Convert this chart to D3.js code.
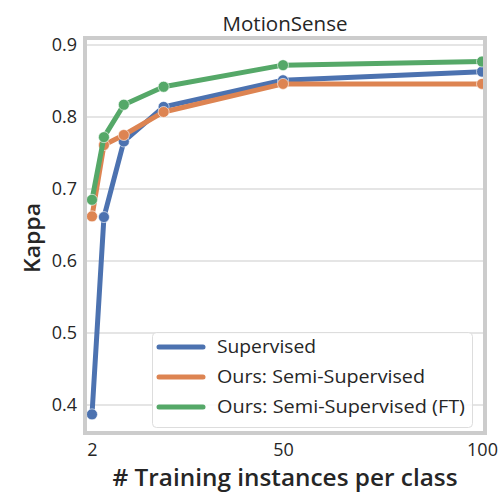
<!DOCTYPE html>
<html><head><meta charset="utf-8">
<script src="https://cdn.jsdelivr.net/npm/d3@7"></script>
<style>body{margin:0;background:#fff}text{font-family:"Open Sans","Noto Sans",sans-serif;fill:#262626}</style>
</head><body><svg id="c" width="503" height="494"></svg>
<script>
const xs = [2, 5, 10, 20, 50, 100];
const supervised = [0.387, 0.661, 0.766, 0.814, 0.851, 0.863];
const semi = [0.662, 0.761, 0.775, 0.807, 0.846, 0.846];
const semiFT = [0.685, 0.772, 0.817, 0.842, 0.872, 0.877];
const seriesNames = ["Supervised", "Ours: Semi-Supervised", "Ours: Semi-Supervised (FT)"];
const colors = ["#4C72B0", "#DD8452", "#55A868"];
const xTicks = [2, 50, 100];
const yTicks = [0.4, 0.5, 0.6, 0.7, 0.8, 0.9];

const svg = d3.select("#c");
const L = 87, R = 483, T = 40, B = 431;
const x = d3.scaleLinear().domain([2, 100]).range([92, 482]);
const y = d3.scaleLinear().domain([0.4, 0.9]).range([405, 45]);

svg.append("defs").append("clipPath").attr("id", "clip")
  .append("rect").attr("x", L).attr("y", T).attr("width", R - L).attr("height", B - T);

svg.append("g").selectAll("line").data(yTicks).join("line")
  .attr("x1", L).attr("x2", R).attr("y1", d => y(d)).attr("y2", d => y(d))
  .attr("stroke", "#dcdcdc").attr("stroke-width", 1.5);

const yAxis = svg.append("g").attr("transform", `translate(${L - 4},0)`)
  .call(d3.axisLeft(y).tickValues(yTicks).tickFormat(d3.format(".1f")).tickSize(0).tickPadding(6));
const xAxis = svg.append("g").attr("transform", `translate(0,${B + 4})`)
  .call(d3.axisBottom(x).tickValues(xTicks).tickFormat(d3.format("d")).tickSize(0).tickPadding(8));
[yAxis, xAxis].forEach(a => { a.select(".domain").remove(); a.selectAll("text").style("font-size", "18px").attr("fill", "#262626"); });

const data = [supervised, semi, semiFT];
const line = d3.line().x((d, i) => x(xs[i])).y(d => y(d));
const plot = svg.append("g").attr("clip-path", "url(#clip)");
data.forEach((s, k) => {
  plot.append("path").datum(s).attr("d", line).attr("fill", "none")
    .attr("stroke", colors[k]).attr("stroke-width", 5).attr("stroke-linejoin", "round");
  plot.selectAll(null).data(s).join("circle")
    .attr("cx", (d, i) => x(xs[i])).attr("cy", d => y(d)).attr("r", 5.5)
    .attr("fill", colors[k]).attr("stroke", "#fff").attr("stroke-width", 0.6);
});

svg.append("rect").attr("x", L - 2).attr("y", T - 2).attr("width", R - L + 4).attr("height", B - T + 4)
  .attr("fill", "none").attr("stroke", "#cccccc").attr("stroke-width", 4);

const lg = svg.append("g");
lg.append("rect").attr("x", 152.5).attr("y", 332.5).attr("width", 320).attr("height", 95).attr("rx", 4)
  .attr("fill", "#fff").attr("fill-opacity", 0.85).attr("stroke", "#dddddd");
const legendWidths = [99, 208, 248];
seriesNames.forEach((n, k) => {
  const yy = 347 + k * 30;
  lg.append("line").attr("x1", 159).attr("x2", 203).attr("y1", yy).attr("y2", yy)
    .attr("stroke", colors[k]).attr("stroke-width", 5).attr("stroke-linecap", "round");
  lg.append("text").attr("x", 217).attr("y", yy).attr("dy", "0.35em").style("font-size", "18px")
    .attr("textLength", legendWidths[k]).attr("lengthAdjust", "spacingAndGlyphs").text(n);
});

svg.append("text").attr("x", 285).attr("y", 24).attr("text-anchor", "middle").attr("dy", "0.35em")
  .style("font-size", "20px").style("font-weight", 500).attr("textLength", 125).attr("lengthAdjust", "spacingAndGlyphs").text("MotionSense");
svg.append("text").attr("transform", "translate(32,238) rotate(-90)").attr("text-anchor", "middle").attr("dy", "0.35em")
  .style("font-size", "22px").style("font-weight", 600).attr("textLength", 70).attr("lengthAdjust", "spacingAndGlyphs").text("Kappa");
svg.append("text").attr("x", 285).attr("y", 478).attr("text-anchor", "middle").attr("dy", "0.35em")
  .style("font-size", "23px").style("font-weight", 600).attr("textLength", 345).attr("lengthAdjust", "spacingAndGlyphs").text("# Training instances per class");
</script></body></html>
